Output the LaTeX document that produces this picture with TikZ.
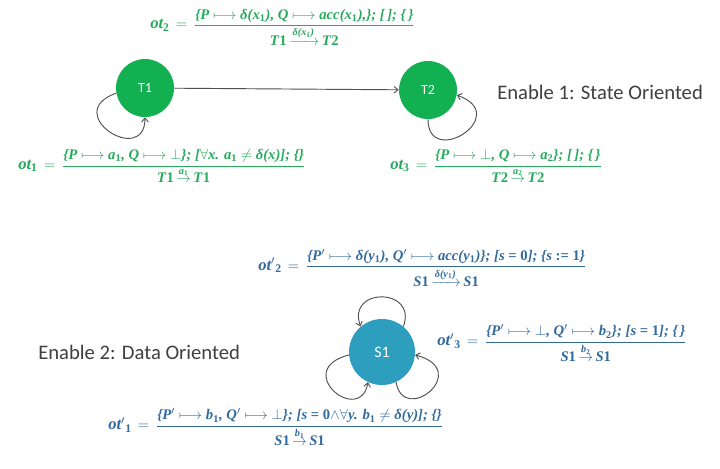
\documentclass[tikz,border=0pt]{standalone}
\usepackage{amsmath,amssymb}
\usepackage{fontspec}
\newfontfamily\calib{Carlito}
\newfontfamily\ff{Liberation Serif}
\usetikzlibrary{arrows.meta}
\definecolor{tgreen}{RGB}{38,170,92}
\definecolor{fgreen}{RGB}{18,176,80}
\definecolor{tblue}{RGB}{50,106,158}
\definecolor{fteal}{RGB}{46,158,190}
\definecolor{lgray}{RGB}{80,80,80}
\definecolor{etext}{RGB}{64,64,64}
\tikzset{
  gstate/.style={circle, fill=fgreen, minimum size=43.5pt, inner sep=0pt, text=white, font=\calib\fontsize{10.5}{12}\selectfont},
  bstate/.style={circle, fill=fteal, minimum size=49.5pt, inner sep=0pt, text=white, font=\calib\fontsize{12}{14}\selectfont},
  formula/.style={anchor=west, inner sep=0pt, font=\ff\bfseries\itshape\fontsize{11}{13}\selectfont},
  gform/.style={formula, text=tgreen},
  bform/.style={formula, text=tblue},
  caption/.style={anchor=west, inner sep=0pt, text=etext, font=\calib\fontsize{15.5}{18}\selectfont},
  conn/.style={draw=lgray, line width=0.7pt, -{Straight Barb[length=3pt,width=5pt]}}
}
\newcommand{\mt}{~$\longmapsto$~}
\newcommand{\ssub}[1]{\textsubscript{\textup{#1}}}
\newcommand{\fr}[2]{$\displaystyle\,=\,\frac{\text{#1}}{\text{#2}}$}
\newcommand{\lhs}[1]{{\fontsize{12.5}{14}\selectfont #1}}
\begin{document}
\begin{tikzpicture}[x=0.75pt,y=0.75pt]
\useasboundingbox (0,0) rectangle (720,-468);
\fill[white] (0,0) rectangle (720,-468);
% states
\node[gstate] (T1) at (145,-88) {T1};
\node[gstate] (T2) at (428,-90) {T2};
\node[bstate] (S1) at (382,-352) {S1};
% captions
\node[caption] (cap1) at (497,-92) {Enable 1: State Oriented};
\node[caption] (cap2) at (38,-352) {Enable 2: Data Oriented};
% transitions
\draw[conn] (T1) -- (T2);
\draw[conn] (T1.190) .. controls +(200:60) and +(270:50) .. (T1.270);
\draw[conn] (T2.270) .. controls +(270:50) and +(340:60) .. (T2.350);
\draw[conn] (S1.50) .. controls +(70:42) and +(110:42) .. (S1.130);
\draw[conn] (S1.185) .. controls +(195:60) and +(260:45) .. (S1.245);
\draw[conn] (S1.295) .. controls +(280:45) and +(345:60) .. (S1.355);
% formulas
\node[gform] (ot2) at (150,-27) {\lhs{ot\ssub{2}} \fr{\{P\mt δ(x\ssub{1}), Q\mt acc(x\ssub{1}),\}; [\,]; \{\,\}}{T\textup{1}\,$\xrightarrow{\text{δ(x\ssub{1})}}$\,T\textup{2}}};
\node[gform] (ot1) at (18,-166) {\lhs{ot\ssub{1}} \fr{\{P\mt a\ssub{1}, Q\mt$\bot$\}; [$\forall$x. a\ssub{1} $\neq$ δ(x)]; \{\}}{T\textup{1}\,$\overset{\text{a\ssub{1}}}{\to}$\,T\textup{1}}};
\node[gform] (ot3) at (390,-166) {\lhs{ot\ssub{3}} \fr{\{P\mt$\bot$, Q\mt a\ssub{2}\}; [\,]; \{\,\}}{T\textup{2}\,$\overset{\text{a\ssub{2}}}{\to}$\,T\textup{2}}};
\node[bform] (otp2) at (258,-268) {\lhs{ot$'$\ssub{2}} \fr{\{P$'$\mt δ(y\ssub{1}), Q$'$\mt acc(y\ssub{1})\}; [s \textup{= 0}]; \{s \textup{:= 1}\}}{S\textup{1}\,$\xrightarrow{\text{δ(y\ssub{1})}}$\,S\textup{1}}};
\node[bform] (otp3) at (437,-343) {\lhs{ot$'$\ssub{3}} \fr{\{P$'$\mt$\bot$, Q$'$\mt b\ssub{2}\}; [s \textup{= 1}]; \{\,\}}{S\textup{1}\,$\overset{\text{b\ssub{2}}}{\to}$\,S\textup{1}}};
\node[bform] (otp1) at (108,-427) {\lhs{ot$'$\ssub{1}} \fr{\{P$'$\mt b\ssub{1}, Q$'$\mt$\bot$\}; [s \textup{= 0}$\land\forall$y. b\ssub{1} $\neq$ δ(y)]; \{\}}{S\textup{1}\,$\overset{\text{b\ssub{1}}}{\to}$\,S\textup{1}}};
\end{tikzpicture}
\end{document}
